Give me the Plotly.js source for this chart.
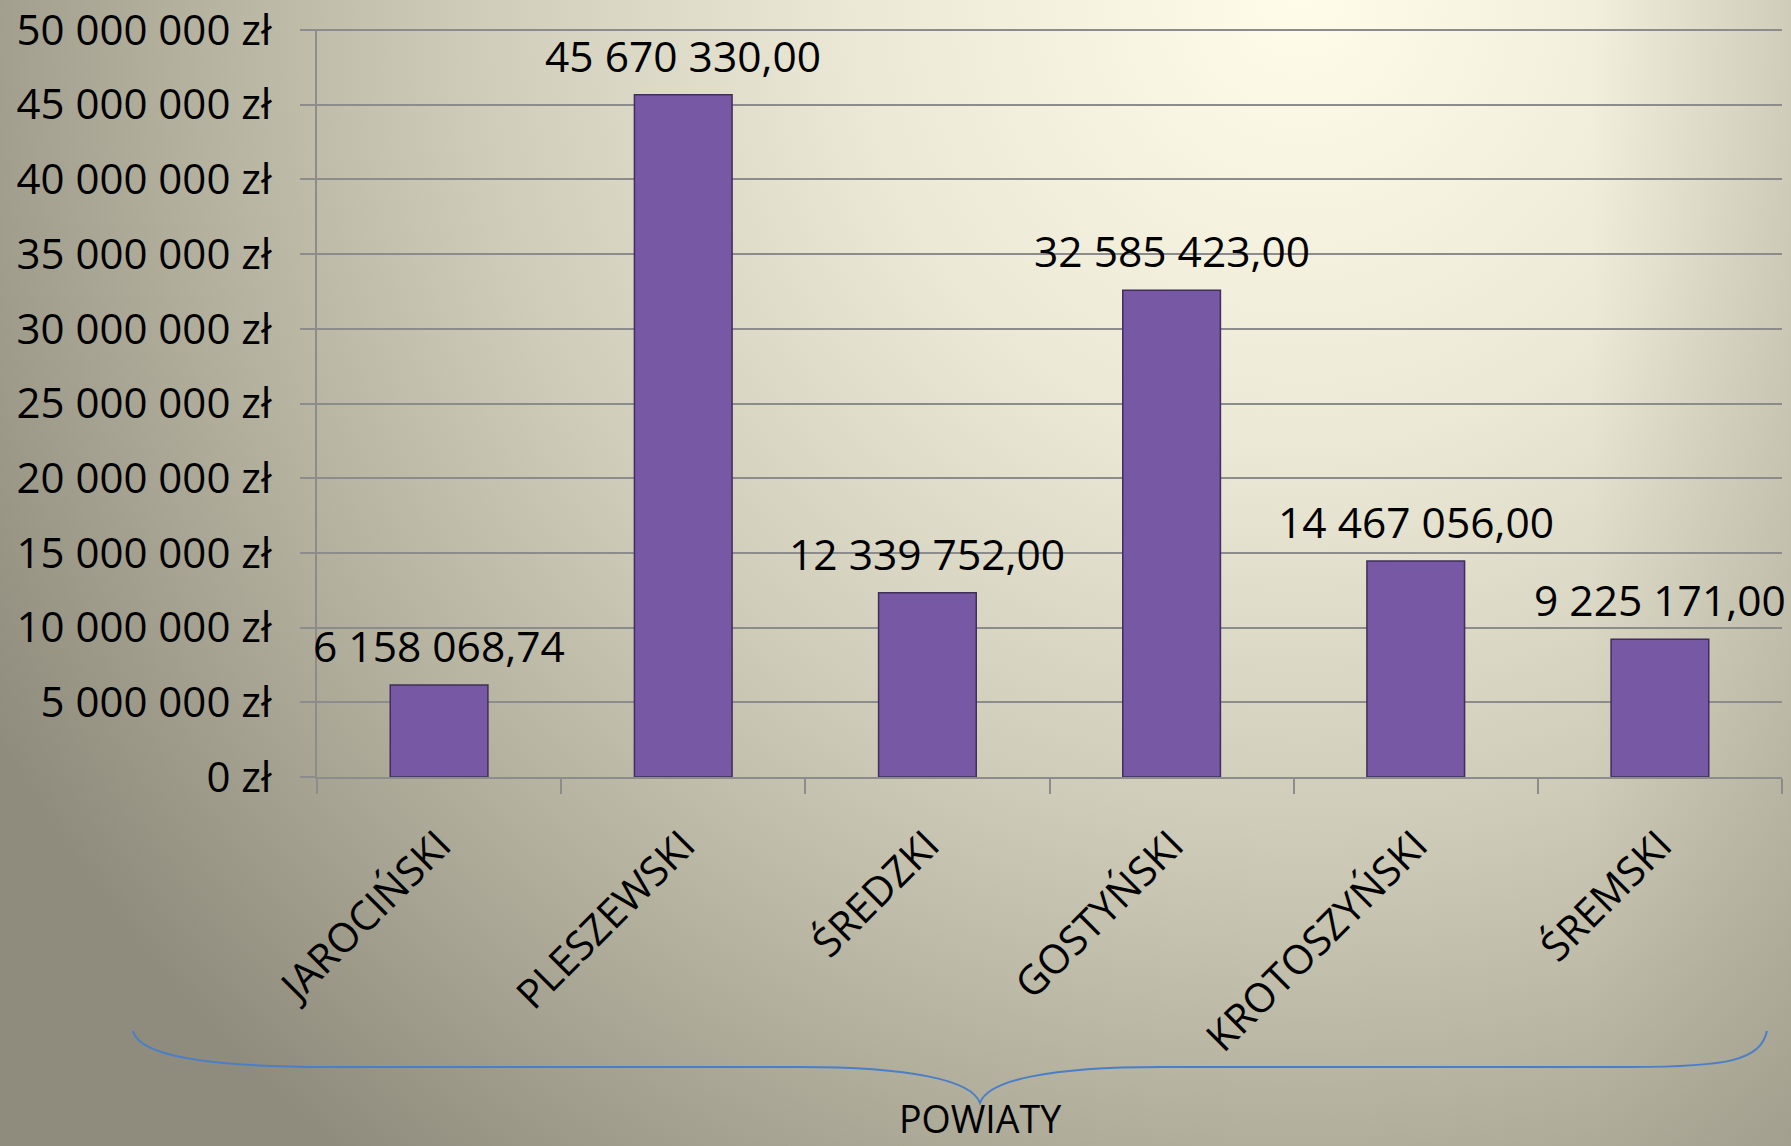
<!DOCTYPE html>
<html>
<head>
<meta charset="utf-8">
<script src="https://cdn.plot.ly/plotly-3.0.1.min.js"></script>
<style>
  html, body { margin: 0; padding: 0; }
  body {
    width: 1791px; height: 1146px; overflow: hidden;
    background:
      linear-gradient(to left, rgba(150,147,130,0.3) 0px, rgba(150,147,130,0) 200px),
      radial-gradient(ellipse 1500px 1500px at 1300px 0px, #fffdea 0%, #ebe8d5 30%, #cfccb9 55%, #b3b09e 75%, #8f8c7d 100%);
  }
  #chart { width: 1791px; height: 1146px; }
</style>
</head>
<body>
<div id="chart"></div>
<script>
// ---- data ----
const categories = ["JAROCIŃSKI", "PLESZEWSKI", "ŚREDZKI", "GOSTYŃSKI", "KROTOSZYŃSKI", "ŚREMSKI"];
const values = [6158068.74, 45670330.00, 12339752.00, 32585423.00, 14467056.00, 9225171.00];
const valueLabels = ["6 158 068,74", "45 670 330,00", "12 339 752,00", "32 585 423,00", "14 467 056,00", "9 225 171,00"];
const yTickVals = [0, 5000000, 10000000, 15000000, 20000000, 25000000, 30000000, 35000000, 40000000, 45000000, 50000000];
const yTickLabels = ["0 zł", "5 000 000 zł", "10 000 000 zł", "15 000 000 zł", "20 000 000 zł", "25 000 000 zł",
                     "30 000 000 zł", "35 000 000 zł", "40 000 000 zł", "45 000 000 zł", "50 000 000 zł"];
const axisTitle = "POWIATY";

// ---- layout helpers ----
const W = 1791, H = 1146;
const M = { l: 317, r: 9, t: 29, b: 369 };
const PW = W - M.l - M.r, PH = H - M.t - M.b;
const px = x => (x - M.l) / PW;
const py = y => (H - M.b - y) / PH;
const P = (x, y) => px(x).toFixed(5) + "," + py(y).toFixed(5);

const bracePath =
  "M" + P(133, 1031) +
  " C" + P(140, 1060) + " " + P(230, 1067) + " " + P(330, 1067) +
  " L" + P(800, 1067) +
  " C" + P(910, 1067) + " " + P(972, 1080) + " " + P(980, 1103) +
  " C" + P(988, 1080) + " " + P(1050, 1067) + " " + P(1160, 1067) +
  " L" + P(1630, 1067) +
  " C" + P(1730, 1067) + " " + P(1760, 1060) + " " + P(1767, 1031);

const FONT = "Open Sans, Liberation Sans, sans-serif";
const gridCol = "#8c8c8c";

const trace = {
  type: "bar",
  x: categories,
  y: values,
  marker: { color: "#7658a5", line: { color: "#3f2f5a", width: 1.5 } },
  hoverinfo: "skip"
};

const annotations = categories.map((c, i) => ({
  x: c, y: values[i], xref: "x", yref: "y",
  text: valueLabels[i], showarrow: false,
  yanchor: "bottom", xanchor: "center", yshift: 9,
  font: { family: FONT, size: 42.5, color: "#000" }
}));
annotations.push({
  x: px(980), y: py(1118), xref: "paper", yref: "paper",
  text: axisTitle, showarrow: false, xanchor: "center", yanchor: "middle",
  font: { family: FONT, size: 37.5, color: "#000" }
});

const layout = {
  width: W, height: H,
  margin: M,
  paper_bgcolor: "rgba(0,0,0,0)",
  plot_bgcolor: "rgba(0,0,0,0)",
  showlegend: false,
  bargap: 0.6,
  font: { family: FONT, color: "#000" },
  xaxis: {
    type: "category",
    autorange: false,
    range: [-0.5, categories.length - 0.5],
    tickson: "boundaries",
    ticks: "outside", ticklen: 15, tickwidth: 2, tickcolor: gridCol,
    ticklabelstandoff: 26,
    showline: true, linecolor: gridCol, linewidth: 2,
    showgrid: false, zeroline: false,
    tickangle: -45,
    tickfont: { family: FONT, size: 40.5, color: "#000" },
    fixedrange: true
  },
  yaxis: {
    autorange: false,
    range: [0, 50070000],
    tickmode: "array", tickvals: yTickVals, ticktext: yTickLabels,
    ticks: "outside", ticklen: 15, tickwidth: 2, tickcolor: gridCol,
    ticklabelstandoff: 20,
    ticklabeloverflow: "allow",
    showline: true, linecolor: gridCol, linewidth: 2,
    showgrid: true, gridcolor: gridCol, gridwidth: 2,
    zeroline: false,
    tickfont: { family: FONT, size: 42, color: "#000" },
    fixedrange: true
  },
  annotations: annotations,
  shapes: [{
    type: "path", xref: "paper", yref: "paper",
    path: bracePath,
    line: { color: "#4a7fc8", width: 2 },
    fillcolor: "rgba(0,0,0,0)"
  }]
};

Plotly.newPlot("chart", [trace], layout, { displayModeBar: false, staticPlot: true });
</script>
</body>
</html>
